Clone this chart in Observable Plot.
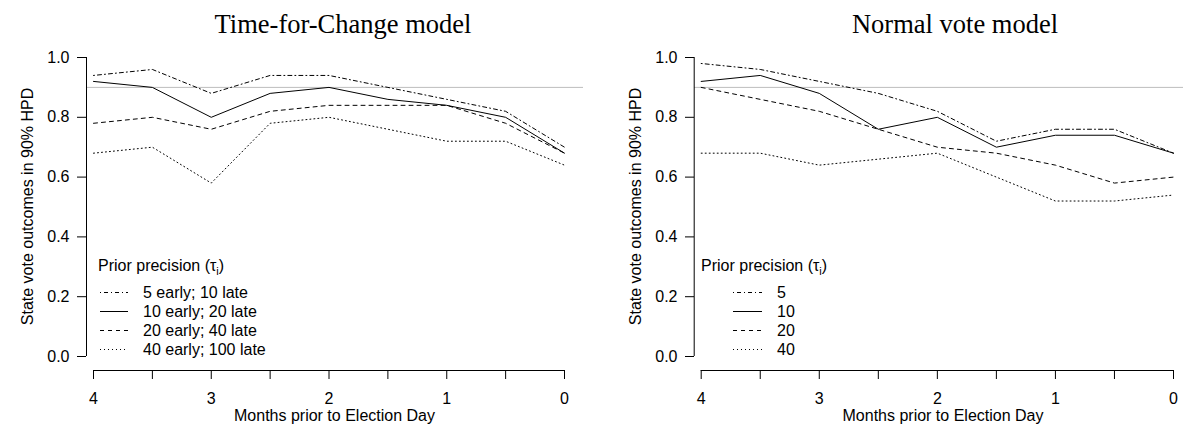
<!DOCTYPE html>
<html><head><meta charset="utf-8">
<script src="https://cdn.jsdelivr.net/npm/d3@7"></script>
<script src="https://cdn.jsdelivr.net/npm/@observablehq/plot@0.6"></script>
<style>
body{margin:0;background:#fff}
#wrap{display:flex;width:1183px;height:426px;overflow:hidden}
</style>
</head><body><div id="wrap"></div>
<script>
// ---- data ----
const months = [4, 3.5, 3, 2.5, 2, 1.5, 1, 0.5, 0];
const xTicks = [4, 3.5, 3, 2.5, 2, 1.5, 1, 0.5, 0];
const yTicks = [0, 0.2, 0.4, 0.6, 0.8, 1.0];
const refLevel = 0.9;

const tfcLabels = ["5 early; 10 late", "10 early; 20 late", "20 early; 40 late", "40 early; 100 late"];
const tfc5  = [0.94, 0.96, 0.88, 0.94, 0.94, 0.90, 0.86, 0.82, 0.70];
const tfc10 = [0.92, 0.90, 0.80, 0.88, 0.90, 0.86, 0.84, 0.80, 0.68];
const tfc20 = [0.78, 0.80, 0.76, 0.82, 0.84, 0.84, 0.84, 0.78, 0.68];
const tfc40 = [0.68, 0.70, 0.58, 0.78, 0.80, 0.76, 0.72, 0.72, 0.64];

const nvLabels = ["5", "10", "20", "40"];
const nv5  = [0.98, 0.96, 0.92, 0.88, 0.82, 0.72, 0.76, 0.76, 0.68];
const nv10 = [0.92, 0.94, 0.88, 0.76, 0.80, 0.70, 0.74, 0.74, 0.68];
const nv20 = [0.90, 0.86, 0.82, 0.76, 0.70, 0.68, 0.64, 0.58, 0.60];
const nv40 = [0.68, 0.68, 0.64, 0.66, 0.68, 0.60, 0.52, 0.52, 0.54];

const dashes = ["1,3,4,3", null, "4,4", "1,3"];

function panel(cfg) {
  const marks = [
    Plot.ruleY([refLevel], {stroke: "#bdbdbd", strokeWidth: 1}),
    ...cfg.series.map((vals, i) => Plot.line(months.map((m, j) => ({month: m, value: vals[j]})), {
      x: "month", y: "value", stroke: "black", strokeWidth: 1,
      strokeDasharray: dashes[i] || undefined, strokeLinejoin: "round"
    })),
    Plot.axisY({ticks: yTicks, tickSize: 9, tickPadding: 8, tickFormat: d3.format(".1f"), label: null}),
    Plot.ruleX([months[0]], {y1: yTicks[0], y2: yTicks[yTicks.length - 1], dx: -7, stroke: "black"}),
    Plot.axisX({ticks: xTicks, tickSize: 9, tickPadding: 13, label: null,
      tickFormat: d => Number.isInteger(d) ? String(d) : ""}),
    Plot.ruleY([yTicks[0]], {x1: months[0], x2: months[months.length - 1], dy: 14, stroke: "black"})
  ];
  const svg = Plot.plot({
    width: cfg.width, height: 426,
    marginLeft: cfg.marginLeft, marginRight: cfg.marginRight, marginTop: 57, marginBottom: 56,
    style: {fontFamily: "'Liberation Sans', Arial, sans-serif", fontSize: "16px", background: "white", color: "black", overflow: "visible"},
    x: {domain: [4, 0], range: cfg.xRange},
    y: {domain: [0, 1], range: [356, 57]},
    marks
  });
  const s = d3.select(svg);
  s.append("text").attr("x", cfg.titleX).attr("y", 33).attr("text-anchor", "middle")
    .attr("font-family", "'Liberation Serif', 'Times New Roman', serif").attr("font-size", 26.5)
    .attr("fill", "black").text(cfg.title);
  s.append("text").attr("x", cfg.xlabX).attr("y", 421).attr("text-anchor", "middle")
    .attr("fill", "black").text("Months prior to Election Day");
  s.append("text").attr("transform", `translate(${cfg.ylabX},206.5) rotate(-90)`).attr("text-anchor", "middle")
    .attr("fill", "black").text("State vote outcomes in 90% HPD");
  // legend
  const lt = s.append("text").attr("x", cfg.legX).attr("y", 271).attr("text-anchor", "start").attr("fill", "black");
  lt.append("tspan").text("Prior precision (τ");
  lt.append("tspan").attr("dy", 4).attr("font-size", 11).text("i");
  lt.append("tspan").attr("dy", -4).text(")");
  cfg.labels.forEach((lab, i) => {
    const cy = 292.5 + i * 19;
    s.append("line").attr("x1", cfg.sampleX[0]).attr("x2", cfg.sampleX[1]).attr("y1", cy).attr("y2", cy)
      .attr("stroke", "black").attr("stroke-width", 1).attr("stroke-dasharray", dashes[i] || null);
    s.append("text").attr("x", cfg.textX).attr("y", cy + 5.7).attr("text-anchor", "start")
      .attr("fill", "black").text(lab);
  });
  return svg;
}

const wrap = document.getElementById("wrap");
wrap.append(panel({
  title: "Time-for-Change model", width: 591, marginLeft: 86, marginRight: 8, xRange: [93, 564],
  series: [tfc5, tfc10, tfc20, tfc40], labels: tfcLabels,
  titleX: 343, xlabX: 334.5, ylabX: 33, legX: 98, sampleX: [100, 128], textX: 143
}));
wrap.append(panel({
  title: "Normal vote model", width: 592, marginLeft: 103, marginRight: 0, xRange: [109.7, 582],
  series: [nv5, nv10, nv20, nv40], labels: nvLabels,
  titleX: 364, xlabX: 352, ylabX: 50, legX: 110, sampleX: [142, 171], textX: 186
}));
</script></body></html>
